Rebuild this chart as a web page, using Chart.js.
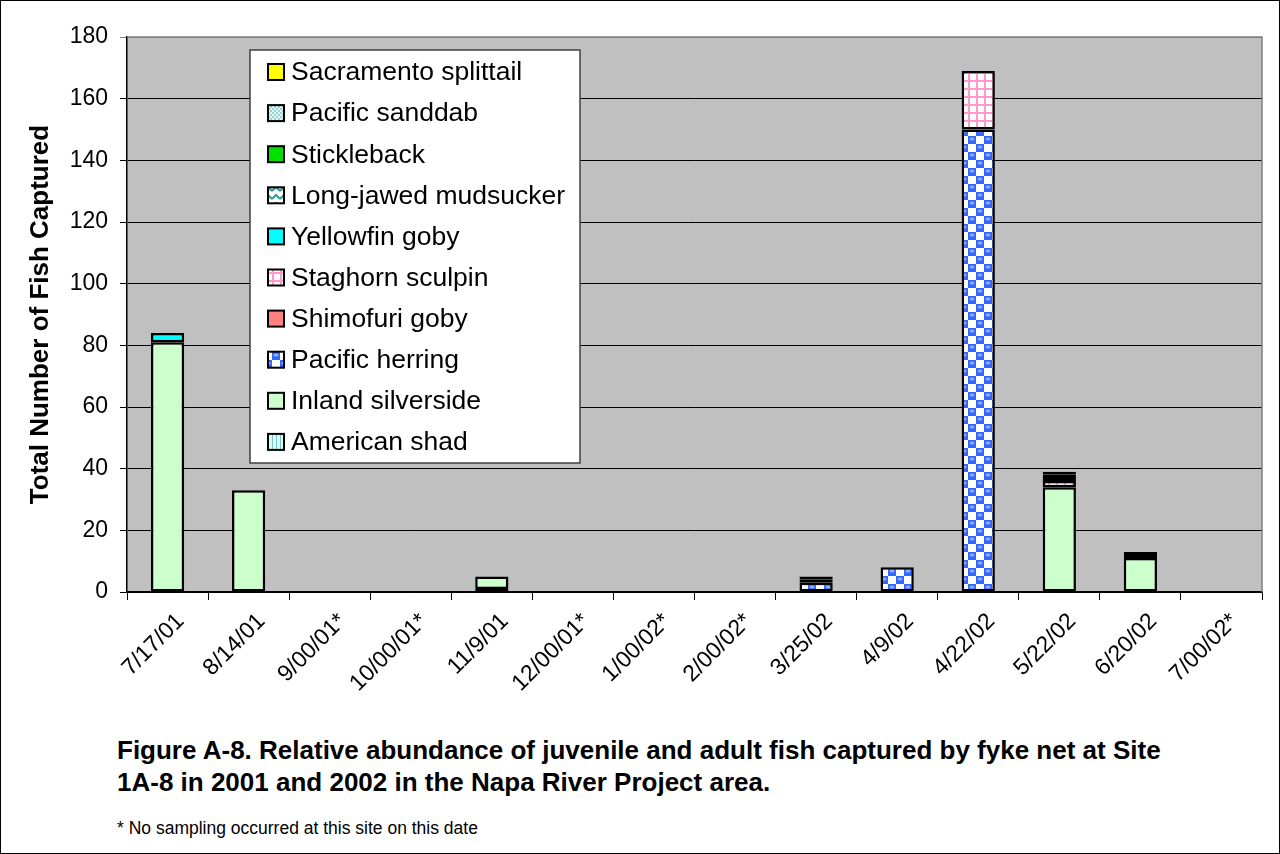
<!DOCTYPE html>
<html>
<head>
<meta charset="utf-8">
<script src="https://cdn.jsdelivr.net/npm/chart.js@4"></script>
<style>
  body { margin: 0; background: #fff; }
  #page { position: relative; width: 1280px; height: 854px; overflow: hidden; }
  #frame { position: absolute; left: 0; top: 0; width: 1280px; height: 854px; box-sizing: border-box; border: 1px solid #000; pointer-events: none; }
  #fishChart { position: absolute; left: 0; top: 0; }
  .caption { position: absolute; left: 117px; top: 734px; width: 1150px; font: bold 26px "Liberation Sans", Arial, sans-serif; line-height: 32px; color: #000; white-space: nowrap; }
  .note { position: absolute; left: 117px; top: 816px; font: 17.5px "Liberation Sans", Arial, sans-serif; line-height: 24px; color: #000; }
</style>
</head>
<body>
<div id="page">
  <canvas id="fishChart" width="1280" height="720"></canvas>
  <div class="caption">Figure A-8. Relative abundance of juvenile and adult fish captured by fyke net at Site<br>1A-8 in 2001 and 2002 in the Napa River Project area.</div>
  <div class="note">* No sampling occurred at this site on this date</div>
  <div id="frame"></div>
</div>
<script>
const sampleDates = ['7/17/01', '8/14/01', '9/00/01*', '10/00/01*', '11/9/01', '12/00/01*', '1/00/02*',
    '2/00/02*', '3/25/02', '4/9/02', '4/22/02', '5/22/02', '6/20/02', '7/00/02*'];

// fish counts per date, stacked bottom to top in this order
const americanShad       = [0, 0, 0, 0, 1, 0, 0, 0, 0, 0, 0, 0, 0, 0];
const inlandSilverside   = [81, 33, 0, 0, 4, 0, 0, 0, 0, 0, 0, 34, 11, 0];
const pacificHerring     = [0, 0, 0, 0, 0, 0, 0, 0, 3, 8, 150, 0, 0, 0];
const shimofuriGoby      = [0, 0, 0, 0, 0, 0, 0, 0, 0, 0, 0, 0, 0, 0];
const staghornSculpin    = [0, 0, 0, 0, 0, 0, 0, 0, 0, 0, 19, 2, 0, 0];
const yellowfinGoby      = [3, 0, 0, 0, 0, 0, 0, 0, 0, 0, 0, 1, 0, 0];
const longJawedMudsucker = [0, 0, 0, 0, 0, 0, 0, 0, 1, 0, 0, 1, 1, 0];
const stickleback        = [0, 0, 0, 0, 0, 0, 0, 0, 1, 0, 0, 1, 1, 0];
const pacificSanddab     = [0, 0, 0, 0, 0, 0, 0, 0, 0, 0, 0, 0, 0, 0];
const sacramentoSplittail = [0, 0, 0, 0, 0, 0, 0, 0, 0, 0, 0, 0, 0, 0];

const yTicks = [0, 20, 40, 60, 80, 100, 120, 140, 160, 180];

const FONT = '"Liberation Sans", Arial, sans-serif';

function makePattern(size, draw) {
    const c = document.createElement('canvas');
    c.width = size;
    c.height = size;
    const g = c.getContext('2d');
    draw(g, size);
    return g.createPattern(c, 'repeat');
}

const herringFill = makePattern(16, (g) => {
    g.fillStyle = '#ffffff';
    g.fillRect(0, 0, 16, 16);
    g.fillStyle = '#3366ff';
    g.fillRect(0, 0, 8, 8);
    g.fillRect(8, 8, 8, 8);
    g.fillStyle = '#8fb0ff';
    g.beginPath(); g.ellipse(4, 3, 2.5, 1.5, 0, 0, Math.PI * 2); g.fill();
    g.beginPath(); g.ellipse(12, 11, 2.5, 1.5, 0, 0, Math.PI * 2); g.fill();
});
const staghornFill = makePattern(8, (g) => {
    g.fillStyle = '#ffffff';
    g.fillRect(0, 0, 8, 8);
    g.fillStyle = '#ff99cc';
    g.fillRect(0, 0, 2, 8);
    g.fillRect(0, 0, 8, 2);
});
const shadFill = makePattern(4, (g) => {
    g.fillStyle = '#ccffff';
    g.fillRect(0, 0, 4, 4);
    g.fillStyle = '#88bbbb';
    g.fillRect(0, 0, 1, 4);
});
const sanddabFill = makePattern(4, (g) => {
    g.fillStyle = '#ccffff';
    g.fillRect(0, 0, 4, 4);
    g.fillStyle = '#b0c8c8';
    g.fillRect(0, 0, 2, 2);
    g.fillRect(2, 2, 2, 2);
});
const mudsuckerFill = makePattern(8, (g) => {
    g.fillStyle = '#ffffff';
    g.fillRect(0, 0, 8, 8);
    g.strokeStyle = '#339999';
    g.lineWidth = 2;
    g.beginPath(); g.moveTo(0, 7); g.lineTo(4, 3); g.lineTo(8, 7); g.stroke();
});

function series(label, values, fill) {
    return {
        label: label,
        data: values.map(v => (v === 0 ? null : v)),
        backgroundColor: fill,
        borderColor: '#000000',
        borderWidth: 2.5,
        borderSkipped: false
    };
}

const datasets = [
    series('American shad', americanShad, shadFill),
    series('Inland silverside', inlandSilverside, '#ccffcc'),
    series('Pacific herring', pacificHerring, herringFill),
    series('Shimofuri goby', shimofuriGoby, '#ff8080'),
    series('Staghorn sculpin', staghornSculpin, staghornFill),
    series('Yellowfin goby', yellowfinGoby, '#00ffff'),
    series('Long-jawed mudsucker', longJawedMudsucker, mudsuckerFill),
    series('Stickleback', stickleback, '#00e000'),
    series('Pacific sanddab', pacificSanddab, sanddabFill),
    series('Sacramento splittail', sacramentoSplittail, '#ffff00')
];

// grey plot area with a grey frame on top and right
const plotArea = {
    id: 'plotArea',
    beforeDraw(chart) {
        const a = chart.chartArea;
        const ctx = chart.ctx;
        ctx.save();
        ctx.fillStyle = '#c0c0c0';
        ctx.fillRect(a.left, a.top, a.right - a.left, a.bottom - a.top);
        ctx.restore();
    },
    afterDatasetsDraw(chart) {
        const a = chart.chartArea;
        const ctx = chart.ctx;
        ctx.save();
        ctx.strokeStyle = '#808080';
        ctx.lineWidth = 1.5;
        ctx.beginPath();
        ctx.moveTo(a.left, a.top);
        ctx.lineTo(a.right, a.top);
        ctx.lineTo(a.right, a.bottom);
        ctx.stroke();
        ctx.restore();
    }
};

// legend box inside the plot, top entry = top of the stack
const boxLegend = {
    id: 'boxLegend',
    afterDraw(chart) {
        const ctx = chart.ctx;
        const items = chart.data.datasets.slice().reverse();
        const x = 250, y = 50, w = 330, h = 413;
        const step = 41.1;
        ctx.save();
        ctx.fillStyle = '#ffffff';
        ctx.fillRect(x, y, w, h);
        ctx.strokeStyle = '#404040';
        ctx.lineWidth = 1.5;
        ctx.strokeRect(x, y, w, h);
        ctx.font = '26.5px ' + FONT;
        ctx.textBaseline = 'middle';
        for (let i = 0; i < items.length; i++) {
            const cy = 72 + i * step;
            ctx.fillStyle = items[i].backgroundColor;
            ctx.fillRect(268, cy - 8, 16, 16);
            ctx.strokeStyle = '#000000';
            ctx.lineWidth = 2;
            ctx.strokeRect(268, cy - 8, 16, 16);
            ctx.fillStyle = '#000000';
            ctx.fillText(items[i].label, 291, cy + 1);
        }
        ctx.restore();
    }
};

new Chart(document.getElementById('fishChart').getContext('2d'), {
    type: 'bar',
    data: { labels: sampleDates, datasets: datasets },
    plugins: [plotArea, boxLegend],
    options: {
        responsive: false,
        animation: false,
        devicePixelRatio: 1,
        categoryPercentage: 1,
        barPercentage: 0.41,
        layout: { padding: { top: 37, right: 18, left: 0, bottom: 0 } },
        plugins: { legend: { display: false }, tooltip: { enabled: false } },
        scales: {
            x: {
                stacked: true,
                offset: true,
                afterFit: s => { s.height = 128; },
                grid: { offset: true, drawOnChartArea: false, drawTicks: true, tickLength: 8, color: '#000', lineWidth: 1 },
                border: { color: '#000', width: 1.5 },
                ticks: { minRotation: 45, maxRotation: 45, autoSkip: false, padding: 8, labelOffset: 13, color: '#000', font: { family: FONT, size: 23 } }
            },
            y: {
                stacked: true,
                min: 0,
                max: 180,
                afterFit: s => { s.width = 127; },
                afterBuildTicks: s => { s.ticks = yTicks.map(v => ({ value: v })); },
                grid: { color: ctx => (ctx.tick && ctx.tick.value === 180 ? '#808080' : '#000'), lineWidth: 1, tickLength: 7 },
                border: { color: '#000', width: 1.5 },
                ticks: { padding: 12, color: '#000', font: { family: FONT, size: 23 } },
                title: {
                    display: true,
                    text: 'Total Number of Fish Captured',
                    color: '#000',
                    padding: { top: 25, bottom: 0 },
                    font: { family: FONT, size: 26, weight: 'bold' }
                }
            }
        }
    }
});
</script>
</body>
</html>
